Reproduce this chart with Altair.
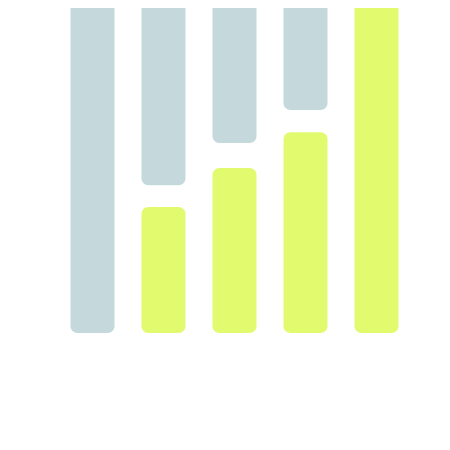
import altair as alt
import pandas as pd

categories = ["A", "B", "C", "D", "E"]
lime_values = [0, 38.8, 50.8, 61.8, 100]
gray_starts = [0, 45.5, 58.5, 68.6, 100]
top_value = 100
overflow = 10  # bars reaching the top are cut off by the plot edge

rows = []
for c, lv, gs in zip(categories, lime_values, gray_starts):
    if lv > 0:
        rows.append({"cat": c, "y0": 0, "y1": lv + (overflow if lv >= top_value else 0), "series": "lime"})
    if gs < top_value:
        rows.append({"cat": c, "y0": gs, "y1": top_value + overflow, "series": "gray"})
df = pd.DataFrame(rows)

chart = alt.Chart(df).mark_bar(cornerRadius=7, clip=True).encode(
    x=alt.X("cat:N", axis=None, sort=categories,
            scale=alt.Scale(paddingInner=0.38, paddingOuter=0.19)),
    y=alt.Y("y0:Q", axis=None, scale=alt.Scale(domain=[0, top_value], nice=False, zero=True)),
    y2="y1:Q",
    color=alt.Color("series:N", legend=None,
                    scale=alt.Scale(domain=["gray", "lime"], range=["#c5d9dc", "#e2fb6e"])),
).properties(
    width=355, height=325,
    padding={"left": 49, "top": 0, "right": 0, "bottom": 0},
).configure_view(stroke=None)

chart.save("out.html", embed_options={"renderer": "svg", "actions": False})
